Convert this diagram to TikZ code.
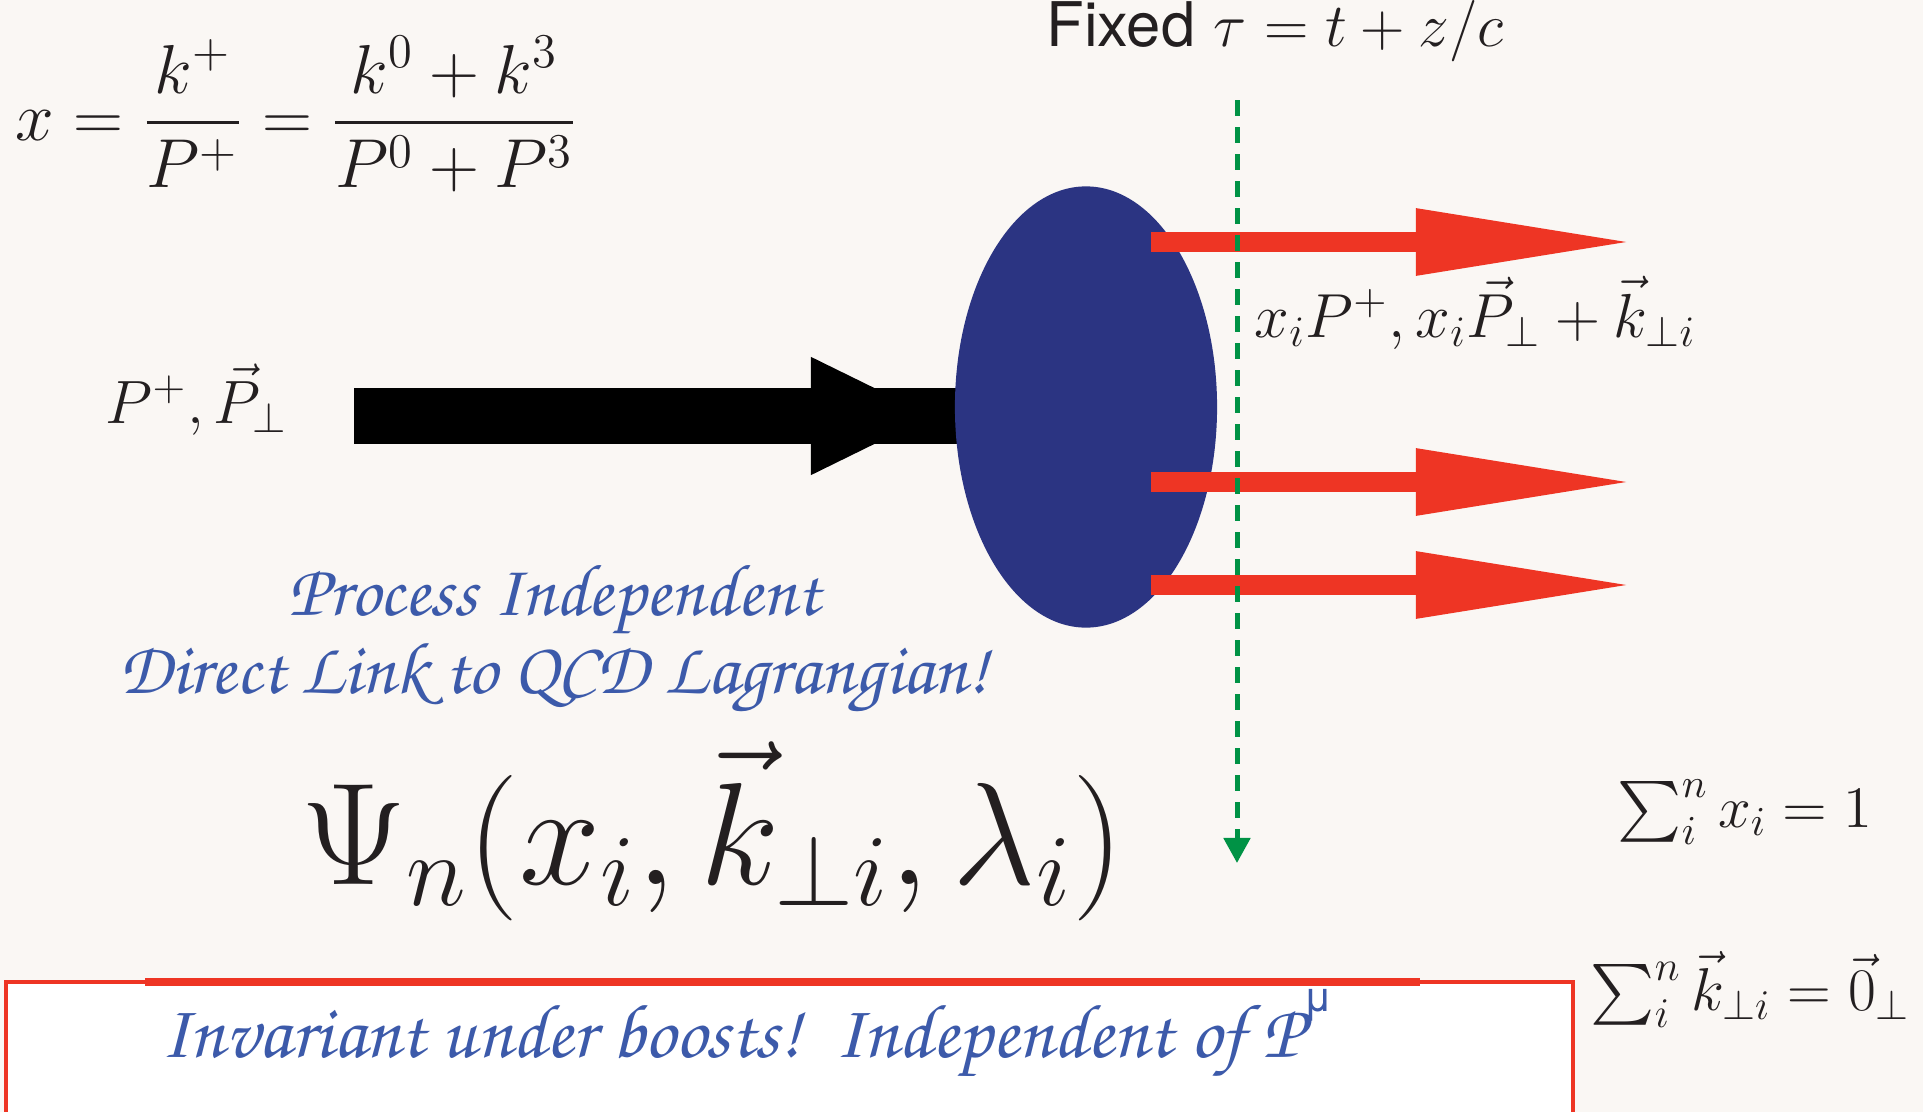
\RequirePackage{fix-cm}
\documentclass[tikz,border=0pt]{standalone}
\usepackage{amsmath}
\usepackage{fontspec}
\setsansfont{TeX Gyre Heros}
\usetikzlibrary{arrows.meta,positioning,shapes.geometric}

\definecolor{bgcream}{RGB}{250,247,244}
\definecolor{blobblue}{RGB}{43,52,130}
\definecolor{partonred}{RGB}{238,53,36}
\definecolor{tauGreen}{RGB}{0,146,69}
\definecolor{noteblue}{RGB}{60,90,170}
\definecolor{inkdark}{RGB}{35,31,32}

\newcommand{\chancery}{\fontencoding{OT1}\fontfamily{pzc}\fontseries{mb}\fontshape{it}\selectfont}

\pgfdeclarelayer{pagefill}
\pgfdeclarelayer{wires}
\pgfsetlayers{pagefill,wires,main}

\tikzset{
  mathlbl/.style={inner sep=0pt, text=inkdark, anchor=base west},
  blob/.style={ellipse, fill=blobblue, minimum width=2.62cm, minimum height=4.41cm, inner sep=0pt},
  beam/.style={line width=5.5mm, draw=black},
  parton/.style={line width=1.9mm, draw=partonred, -{Triangle[length=21.8mm,width=6.2mm]}},
  taucut/.style={line width=0.5mm, draw=tauGreen, dash pattern=on 1.6mm off 1.1mm,
                 -{Triangle[length=2.5mm,width=2.6mm]}},
  note/.style={inner sep=0pt, text=noteblue, font=\chancery}
}

\begin{document}
\begin{tikzpicture}[x=0.01cm, y=-0.01cm]
  \begin{pgfonlayer}{pagefill}
    \fill[bgcream] (0,0) rectangle (1923,1112);
  \end{pgfonlayer}
  \useasboundingbox (0,0) rectangle (1923,1112);

  % hadron blob
  \node[blob] (blob) at (1086,407) {};

  % incoming hadron
  \coordinate (pin) at (354,416);
  \coordinate (pinhead) at (935,416);
  \begin{pgfonlayer}{wires}
    \draw[beam] (pin) -- (pin -| blob.center);
    \draw[beam, -{Triangle[length=12.4mm,width=10.8mm]}] (pin) -- (pinhead);
  \end{pgfonlayer}
  \node[mathlbl, font=\fontsize{17.4}{20}\selectfont] (pplus) at (105,423) {$P^+,\vec P_\perp$};

  % outgoing partons
  \foreach \y/\nm in {242/pa, 482/pb, 585/pc} {
    \coordinate (\nm s) at (1151,\y);
    \coordinate (\nm e) at (1634,\y);
    \draw[parton] (\nm s) -- (\nm e);
  }
  \node[mathlbl, font=\fontsize{17.7}{20}\selectfont] (partonlbl) at (1254,337)
    {$x_iP^+,x_i\vec P_\perp+\vec k_{\perp i}$};

  % light-front time
  \coordinate (tautop) at (1237,100);
  \coordinate (taubot) at (1237,863);
  \draw[taucut] (tautop) -- (taubot);
  \node[mathlbl, font=\fontsize{17.5}{20}\selectfont] (fixedtau) at (1046,47)
    {{\sffamily Fixed} $\tau=t+z/c$};

  % momentum fraction
  \node[mathlbl, font=\fontsize{19.7}{24}\selectfont] (xdef) at (15,140)
    {$\displaystyle x=\frac{k^+}{P^+}=\frac{k^0+k^3}{P^0+P^3}$};

  % wavefunction
  \node[mathlbl, font=\fontsize{41.4}{48}\selectfont] (psi) at (301,884)
    {$\Psi_n(x_i,\vec k_{\perp i},\lambda_i)$};

  % constraints
  \node[mathlbl, font=\fontsize{16.7}{20}\selectfont] (sumx) at (1617,827)
    {$\sum_i^n x_i=1$};
  \node[mathlbl, font=\fontsize{17.2}{20}\selectfont] (sumk) at (1590,1010)
    {$\sum_i^n\vec k_{\perp i}=\vec 0_\perp$};

  % remarks
  \node[note, align=center, font=\chancery\fontsize{21}{14.6}\selectfont] (procnote) at (554,640)
    {Process Independent\\Direct Link to QCD Lagrangian!};

  \draw[draw=partonred, line width=0.4mm, fill=white] (6,982) rectangle (1573,1125);
  \draw[draw=partonred, line width=0.8mm] (145,982) -- (1420,982);
  \node[note, anchor=base west, font=\chancery\fontsize{21.8}{26}\selectfont] (boostnote) at (160,1057)
    {Invariant under boosts!\ \ Independent of P\raisebox{13pt}{\sffamily\fontsize{12}{14}\selectfont μ}};
\end{tikzpicture}
\end{document}
